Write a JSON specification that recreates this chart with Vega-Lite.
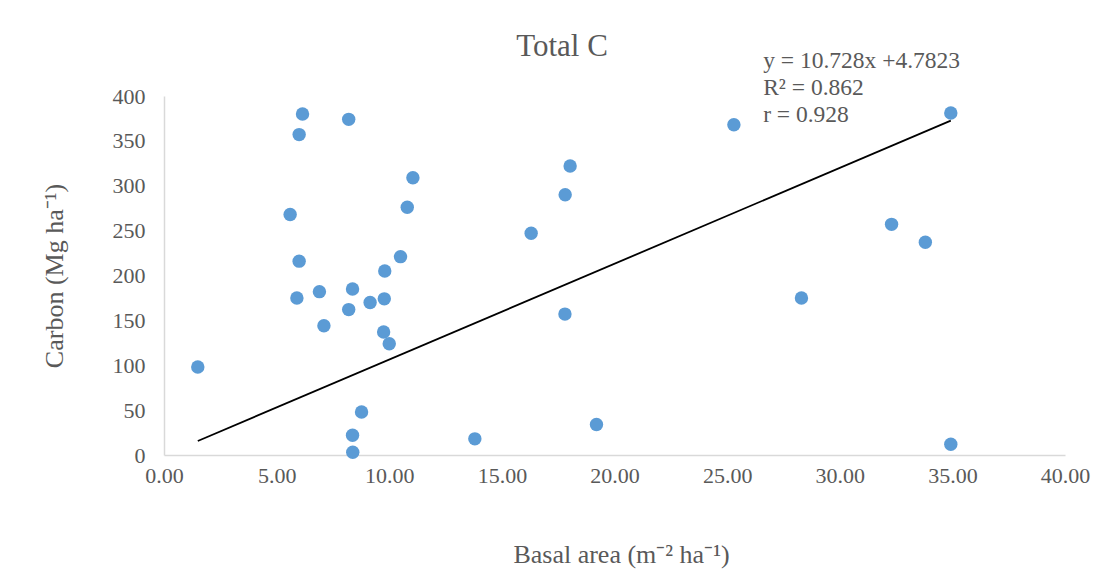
{
  "$schema": "https://vega.github.io/schema/vega-lite/v6.json",
  "width": 901,
  "height": 359,
  "autosize": {"type": "none"},
  "padding": {"left": 164, "top": 96, "right": 43, "bottom": 127},
  "background": "white",
  "config": {"view": {"stroke": null}, "font": "Liberation Serif"},
  "layer": [
    {
      "data": {"values": [
        {"basal_area": 1.5, "carbon": 98},
        {"basal_area": 6.15, "carbon": 380},
        {"basal_area": 6.0, "carbon": 357},
        {"basal_area": 8.2, "carbon": 374},
        {"basal_area": 11.05, "carbon": 309},
        {"basal_area": 10.8, "carbon": 276},
        {"basal_area": 5.6, "carbon": 268},
        {"basal_area": 6.0, "carbon": 216},
        {"basal_area": 10.5, "carbon": 221},
        {"basal_area": 9.8, "carbon": 205},
        {"basal_area": 6.9, "carbon": 182},
        {"basal_area": 8.37, "carbon": 185},
        {"basal_area": 5.9, "carbon": 175},
        {"basal_area": 9.15, "carbon": 170},
        {"basal_area": 9.78, "carbon": 174},
        {"basal_area": 8.2, "carbon": 162},
        {"basal_area": 7.1, "carbon": 144},
        {"basal_area": 9.75, "carbon": 137},
        {"basal_area": 10.0, "carbon": 124},
        {"basal_area": 8.77, "carbon": 48},
        {"basal_area": 8.37, "carbon": 22},
        {"basal_area": 8.38, "carbon": 3},
        {"basal_area": 13.8, "carbon": 18},
        {"basal_area": 16.3, "carbon": 247},
        {"basal_area": 17.8, "carbon": 157},
        {"basal_area": 17.81, "carbon": 290},
        {"basal_area": 18.03, "carbon": 322},
        {"basal_area": 19.2, "carbon": 34},
        {"basal_area": 25.3, "carbon": 368},
        {"basal_area": 28.3, "carbon": 175},
        {"basal_area": 32.3, "carbon": 257},
        {"basal_area": 33.8, "carbon": 237},
        {"basal_area": 34.93, "carbon": 381},
        {"basal_area": 34.93, "carbon": 12}
      ]},
      "mark": {"type": "circle", "size": 180, "color": "#5B9BD5", "opacity": 1},
      "encoding": {
        "x": {"field": "basal_area", "type": "quantitative", "scale": {"domain": [0, 40], "nice": false},
          "axis": {"values": [0, 5, 10, 15, 20, 25, 30, 35, 40], "format": ".2f", "ticks": false, "grid": false,
            "labelFlush": false, "labelOverlap": false,
            "domainColor": "#d9d9d9", "domainWidth": 1.5, "labelColor": "#595959", "labelFontSize": 22, "labelPadding": 10,
            "labelFont": "Liberation Serif",
            "title": "Basal area (m⁻² ha⁻¹)", "titleFontSize": 26, "titleColor": "#595959", "titleFontWeight": "normal",
            "titleFont": "Liberation Serif", "titleX": 457, "titleY": 107, "titleBaseline": "alphabetic"}},
        "y": {"field": "carbon", "type": "quantitative", "scale": {"domain": [0, 400], "nice": false},
          "axis": {"values": [0, 50, 100, 150, 200, 250, 300, 350, 400], "ticks": false, "grid": false,
            "labelFlush": false, "labelOverlap": false,
            "domainColor": "#d9d9d9", "domainWidth": 1.5, "labelColor": "#595959", "labelFontSize": 22, "labelPadding": 19,
            "labelFont": "Liberation Serif",
            "title": "Carbon (Mg ha⁻¹)", "titleFontSize": 26, "titleColor": "#595959", "titleFontWeight": "normal",
            "titleFont": "Liberation Serif", "titleX": -110, "titleY": 179.5, "titleAngle": -90, "titleAlign": "center", "titleBaseline": "middle"}}
      }
    },
    {
      "data": {"values": [
        {"basal_area": 1.5, "carbon": 15.6},
        {"basal_area": 34.93, "carbon": 372.5}
      ]},
      "mark": {"type": "line", "color": "black", "strokeWidth": 1.8},
      "encoding": {
        "x": {"field": "basal_area", "type": "quantitative"},
        "y": {"field": "carbon", "type": "quantitative"}
      }
    },
    {
      "data": {"values": [
        {"label": "y = 10.728x +4.7823", "lx": 26.6, "ly": 439},
        {"label": "R² = 0.862", "lx": 26.6, "ly": 409},
        {"label": "r = 0.928", "lx": 26.6, "ly": 378.3}
      ]},
      "mark": {"type": "text", "align": "left", "baseline": "middle", "fontSize": 23.5, "color": "#595959", "font": "Liberation Serif"},
      "encoding": {
        "x": {"field": "lx", "type": "quantitative"},
        "y": {"field": "ly", "type": "quantitative"},
        "text": {"field": "label"}
      }
    },
    {
      "data": {"values": [
        {"title": "Total C", "tx": 17.67, "ty": 444.6}
      ]},
      "mark": {"type": "text", "align": "center", "baseline": "alphabetic", "fontSize": 31, "color": "#595959", "font": "Liberation Serif"},
      "encoding": {
        "x": {"field": "tx", "type": "quantitative"},
        "y": {"field": "ty", "type": "quantitative"},
        "text": {"field": "title"}
      }
    }
  ]
}
